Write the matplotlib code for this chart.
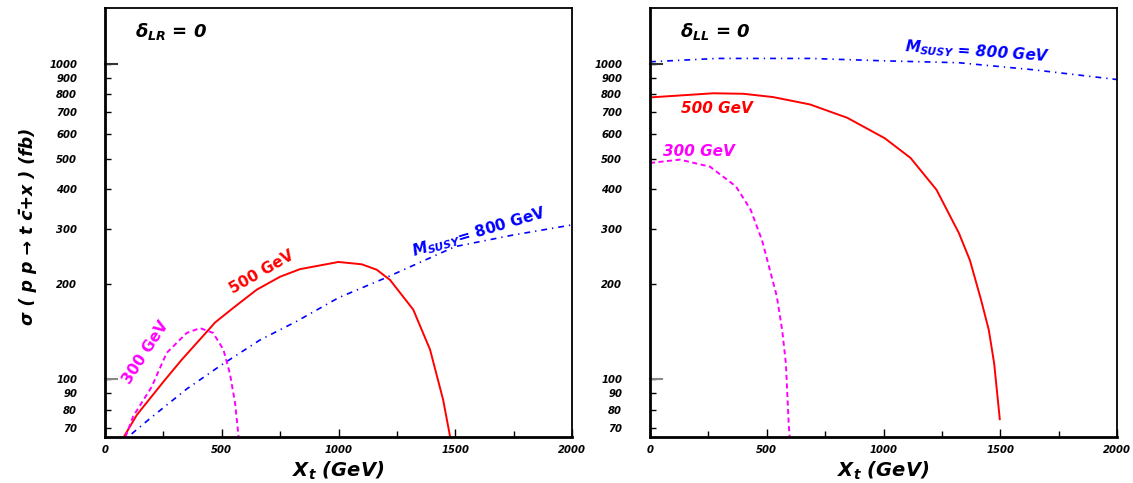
import numpy as np
import matplotlib
matplotlib.use("Agg")
import matplotlib.pyplot as plt
from matplotlib.ticker import FixedLocator, NullFormatter

matplotlib.rcParams['font.family'] = 'DejaVu Sans'
matplotlib.rcParams['mathtext.fontset'] = 'custom'
matplotlib.rcParams['mathtext.rm'] = 'DejaVu Sans:bold:italic'
matplotlib.rcParams['mathtext.it'] = 'DejaVu Sans:bold:italic'
matplotlib.rcParams['mathtext.bf'] = 'DejaVu Sans:bold:italic'

# ---- data (X_t in GeV, sigma in fb) ----
# left panel, delta_LR = 0
lr_susy800_x = [114, 193, 350, 500, 664, 818, 1000, 1200, 1500, 1747, 2000]
lr_susy800_y = [67, 75, 93, 111, 133, 152, 181, 209, 263, 286, 308]
lr_susy500_x = [81, 136, 250, 328, 450, 471, 549, 650, 750, 835, 1000, 1100, 1164, 1221, 1320, 1392, 1448, 1478]
lr_susy500_y = [65.6, 76.9, 98, 115, 145, 151, 168, 192, 211, 223, 235, 231, 222, 206, 166, 124, 86, 65.6]
lr_susy300_x = [88, 120, 200, 264, 350, 407, 463, 507, 535, 557, 572]
lr_susy300_y = [65.6, 76, 94.5, 121, 140, 145, 140, 124, 104, 84, 65.6]

# right panel, delta_LL = 0
ll_susy800_x = [0, 287, 685, 1005, 1323, 1640, 2000]
ll_susy800_y = [1013, 1038, 1038, 1020, 1006, 956, 890]
ll_susy500_x = [0, 272, 400, 527, 685, 845, 1005, 1116, 1227, 1323, 1370, 1418, 1451, 1474, 1498]
ll_susy500_y = [781, 805, 802, 783, 742, 673, 580, 502, 398, 290, 238, 178, 143, 112, 74.6]
ll_susy300_x = [0, 128, 257, 368, 431, 480, 543, 566, 582, 594, 598]
ll_susy300_y = [484, 496, 471, 408, 344, 275, 183, 143, 112, 72, 65.6]

y_ticks = [70, 80, 90, 100, 200, 300, 400, 500, 600, 700, 800, 900, 1000]
x_ticks = [0, 500, 1000, 1500, 2000]

RED, BLUE, MAG = '#ff0000', '#0000ff', '#ff00ff'
DASHDOT = (0, (3.5, 3, 0.8, 3))
DASHED = (0, (2.6, 1.8))

fig = plt.figure(figsize=(11.33, 4.83), dpi=100)
W, H = 1133.0, 483.0
ax1 = fig.add_axes([105 / W, 1 - 437 / H, 467 / W, 429 / H])
ax2 = fig.add_axes([650 / W, 1 - 437 / H, 467 / W, 429 / H])

lab_font = dict(fontsize=7.2, fontweight='bold', fontstyle='italic')


def style_axes(ax):
    ax.set_yscale('log')
    ax.set_xlim(0, 2000)
    ax.set_ylim(65.5, 1500)
    ax.yaxis.set_major_locator(FixedLocator(y_ticks))
    ax.yaxis.set_minor_locator(FixedLocator([]))
    ax.yaxis.set_minor_formatter(NullFormatter())
    ax.set_yticks(y_ticks)
    ax.set_yticklabels([str(t) for t in y_ticks], **lab_font)
    ax.set_xticks(x_ticks)
    ax.set_xticklabels([str(t) for t in x_ticks], **lab_font)
    ax.set_xticks([250, 750, 1250, 1750], minor=True)
    ax.tick_params(axis='both', which='both', direction='in', top=False, right=False,
                   width=1.0, length=4)
    ax.tick_params(axis='x', which='major', length=6, pad=6)
    ax.tick_params(axis='y', pad=20)
    for s in ax.spines.values():
        s.set_linewidth(1.3)
    ax.spines['left'].set_linewidth(2)
    ax.spines['bottom'].set_linewidth(2)
    # longer ticks at the decades
    for t in (100, 1000):
        ax.plot([0, 50], [t, t], color='#888888' if t == 100 else '#333333', lw=1.5, clip_on=False)
    ax.set_xlabel('$X_t$ (GeV)', fontsize=14, fontweight='bold', fontstyle='italic')
    ax.xaxis.set_label_coords(0.5, -0.052)


style_axes(ax1)
style_axes(ax2)

# left panel
ax1.plot(lr_susy800_x, lr_susy800_y, color=BLUE, lw=1.2, ls=DASHDOT)
ax1.plot(lr_susy500_x, lr_susy500_y, color=RED, lw=1.4)
ax1.plot(lr_susy300_x, lr_susy300_y, color=MAG, lw=1.4, ls=DASHED)
ax1.text(672, 218, '500 GeV', color=RED, fontsize=11, fontweight='bold',
         rotation=30, ha='center', va='center', rotation_mode='anchor')
ax1.text(175, 121, '300 GeV', color=MAG, fontsize=11, fontweight='bold',
         rotation=57, ha='center', va='center', rotation_mode='anchor')
ax1.text(1602, 292, '$M_{SUSY}$= 800 GeV', color=BLUE, fontsize=11, fontweight='bold',
         rotation=16.5, ha='center', va='center', rotation_mode='anchor')
ax1.text(0.064, 0.946, r'$\delta_{LR}$ = 0', transform=ax1.transAxes, fontsize=13,
         fontweight='bold', fontstyle='italic', ha='left', va='center')
ax1.set_ylabel('σ ( p p → t c\u0304+x ) (fb)', fontsize=12.5, fontweight='bold',
               fontstyle='italic')
ax1.yaxis.set_label_coords(-0.145, 0.49)

# right panel
ax2.plot(ll_susy800_x, ll_susy800_y, color=BLUE, lw=1.2, ls=DASHDOT)
ax2.plot(ll_susy500_x, ll_susy500_y, color=RED, lw=1.4)
ax2.plot(ll_susy300_x, ll_susy300_y, color=MAG, lw=1.4, ls=DASHED)
ax2.text(133, 718, '500 GeV', color=RED, fontsize=11, fontweight='bold',
         fontstyle='italic', ha='left', va='center')
ax2.text(56, 525, '300 GeV', color=MAG, fontsize=11, fontweight='bold',
         fontstyle='italic', ha='left', va='center')
ax2.text(1402, 1090, '$M_{SUSY}$ = 800 GeV', color=BLUE, fontsize=11, fontweight='bold',
         fontstyle='italic', rotation=-4, ha='center', va='center', rotation_mode='anchor')
ax2.text(0.064, 0.946, r'$\delta_{LL}$ = 0', transform=ax2.transAxes, fontsize=13,
         fontweight='bold', fontstyle='italic', ha='left', va='center')

fig.savefig('out.png', dpi=100)
